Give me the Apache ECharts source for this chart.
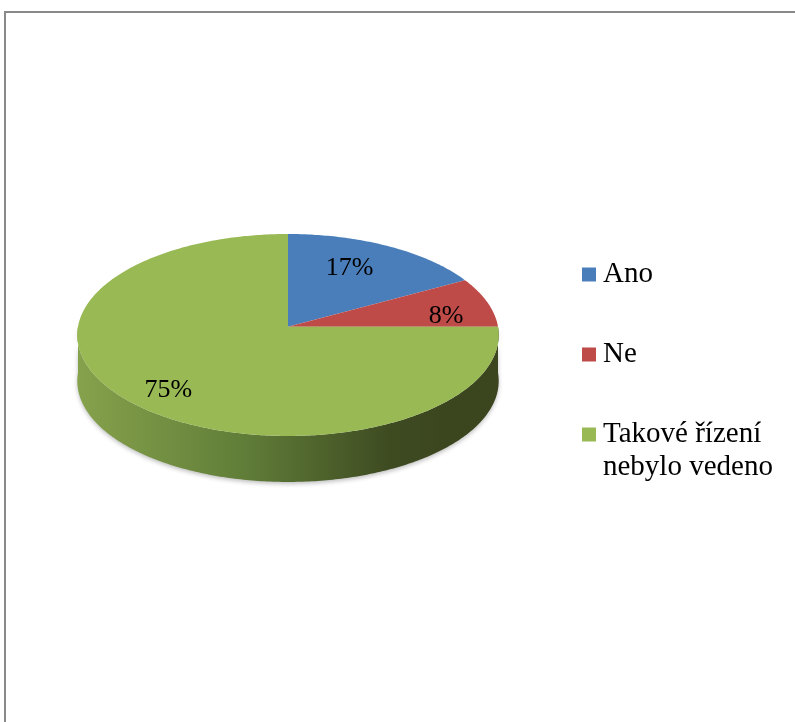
<!DOCTYPE html>
<html>
<head>
<meta charset="utf-8">
<script src="https://cdn.jsdelivr.net/npm/echarts@6/dist/echarts.min.js"></script>
<style>
  html, body { margin: 0; padding: 0; background: #ffffff; }
  #chart { width: 795px; height: 722px; }
</style>
</head>
<body>
<div id="chart"></div>
<script>
// Survey answers and their shares (percent)
const categories = ['Ano', 'Ne', 'Takové řízení\nnebylo vedeno'];
const values = [17, 8, 75];

// Slice fills
const sliceColors = ['#4a7ebb', '#be4b48', '#98b954'];

// Tilted-disc geometry (screen pixels)
const disc = { cx: 288, cy: 326.7, rx: 210, ry: 100.3, persp: 0.082, depth: 46 };
// Label placement: fraction of radius along the slice bisector and a vertical nudge
const labelRadius = [0.6, 0.79, 0.77];
const labelNudge = [-9, 9, 6];

const FONT = '"Liberation Serif", "Times New Roman", serif';
const total = values.reduce((a, b) => a + b, 0);

// Angle measured clockwise from the far (top) point of the disc
function project(theta, r, drop) {
  const u = Math.sin(theta) * r;
  const v = Math.cos(theta) * r;
  const w = 1 + disc.persp * v;
  return [disc.cx + disc.rx * u / w, disc.cy - disc.ry * v / w + (drop || 0)];
}

function arcPoints(a0, a1, drop) {
  const pts = [];
  const steps = Math.max(2, Math.ceil(Math.abs(a1 - a0) / (Math.PI / 240)));
  for (let k = 0; k <= steps; k++) {
    pts.push(project(a0 + (a1 - a0) * k / steps, 1, drop));
  }
  return pts;
}

const wallFill = new echarts.graphic.LinearGradient(77, 0, 445, 0, [
  { offset: 0, color: '#86a24c' },
  { offset: 0.45, color: '#617e39' },
  { offset: 0.85, color: '#3e4b21' },
  { offset: 1, color: '#3b461f' }
], true);

function renderItem(params, api) {
  const i = params.dataIndex;
  const val = api.value(0);
  let before = 0;
  for (let k = 0; k < i; k++) before += values[k];
  const a0 = before / total * Math.PI * 2;
  const a1 = (before + val) / total * Math.PI * 2;
  const children = [];

  // Front wall: only the near half of the rim is visible
  const f0 = Math.max(a0, Math.PI / 2);
  const f1 = Math.min(a1, Math.PI * 1.5);
  if (f1 > f0) {
    const top = arcPoints(f0, f1, 0);
    const bottom = arcPoints(f1, f0, disc.depth);
    children.push({
      type: 'polygon',
      shape: { points: top.concat(bottom) },
      style: {
        fill: wallFill,
        shadowBlur: 4,
        shadowOffsetY: 2,
        shadowColor: 'rgba(0,0,0,0.25)'
      }
    });
  }

  // Top face of the slice
  children.push({
    type: 'polygon',
    shape: { points: [[disc.cx, disc.cy]].concat(arcPoints(a0, a1, 0)) },
    style: { fill: sliceColors[i] }
  });

  // Percentage label
  const mid = (a0 + a1) / 2;
  const p = project(mid, labelRadius[i], 0);
  children.push({
    type: 'text',
    x: p[0],
    y: p[1] + labelNudge[i],
    style: {
      text: Math.round(val / total * 100) + '%',
      font: '26px ' + FONT,
      fill: '#000000',
      align: 'center',
      verticalAlign: 'middle'
    }
  });

  return { type: 'group', children: children };
}

// Legend entries, stacked down the right side
const legendGraphics = [];
categories.forEach((name, i) => {
  const cyMark = 274.5 + i * 80;
  legendGraphics.push({
    type: 'rect',
    shape: { x: 582, y: cyMark - 7, width: 14, height: 14 },
    style: { fill: sliceColors[i] },
    silent: true
  });
  legendGraphics.push({
    type: 'text',
    x: 603,
    y: cyMark - 17,
    style: {
      text: name,
      font: '29px ' + FONT,
      lineHeight: 33.5,
      fill: '#000000',
      align: 'left',
      verticalAlign: 'top'
    },
    silent: true
  });
});

const chart = echarts.init(document.getElementById('chart'), null, { renderer: 'canvas' });
chart.setOption({
  backgroundColor: '#ffffff',
  animation: false,
  graphic: [
    {
      type: 'rect',
      shape: { x: 5, y: 12, width: 900, height: 900 },
      style: { fill: 'none', stroke: '#898989', lineWidth: 2 },
      silent: true,
      z: -10
    }
  ].concat(legendGraphics),
  series: [
    {
      type: 'custom',
      coordinateSystem: 'none',
      renderItem: renderItem,
      data: values.map((v, i) => [v, i]),
      silent: true
    }
  ]
});
</script>
</body>
</html>
